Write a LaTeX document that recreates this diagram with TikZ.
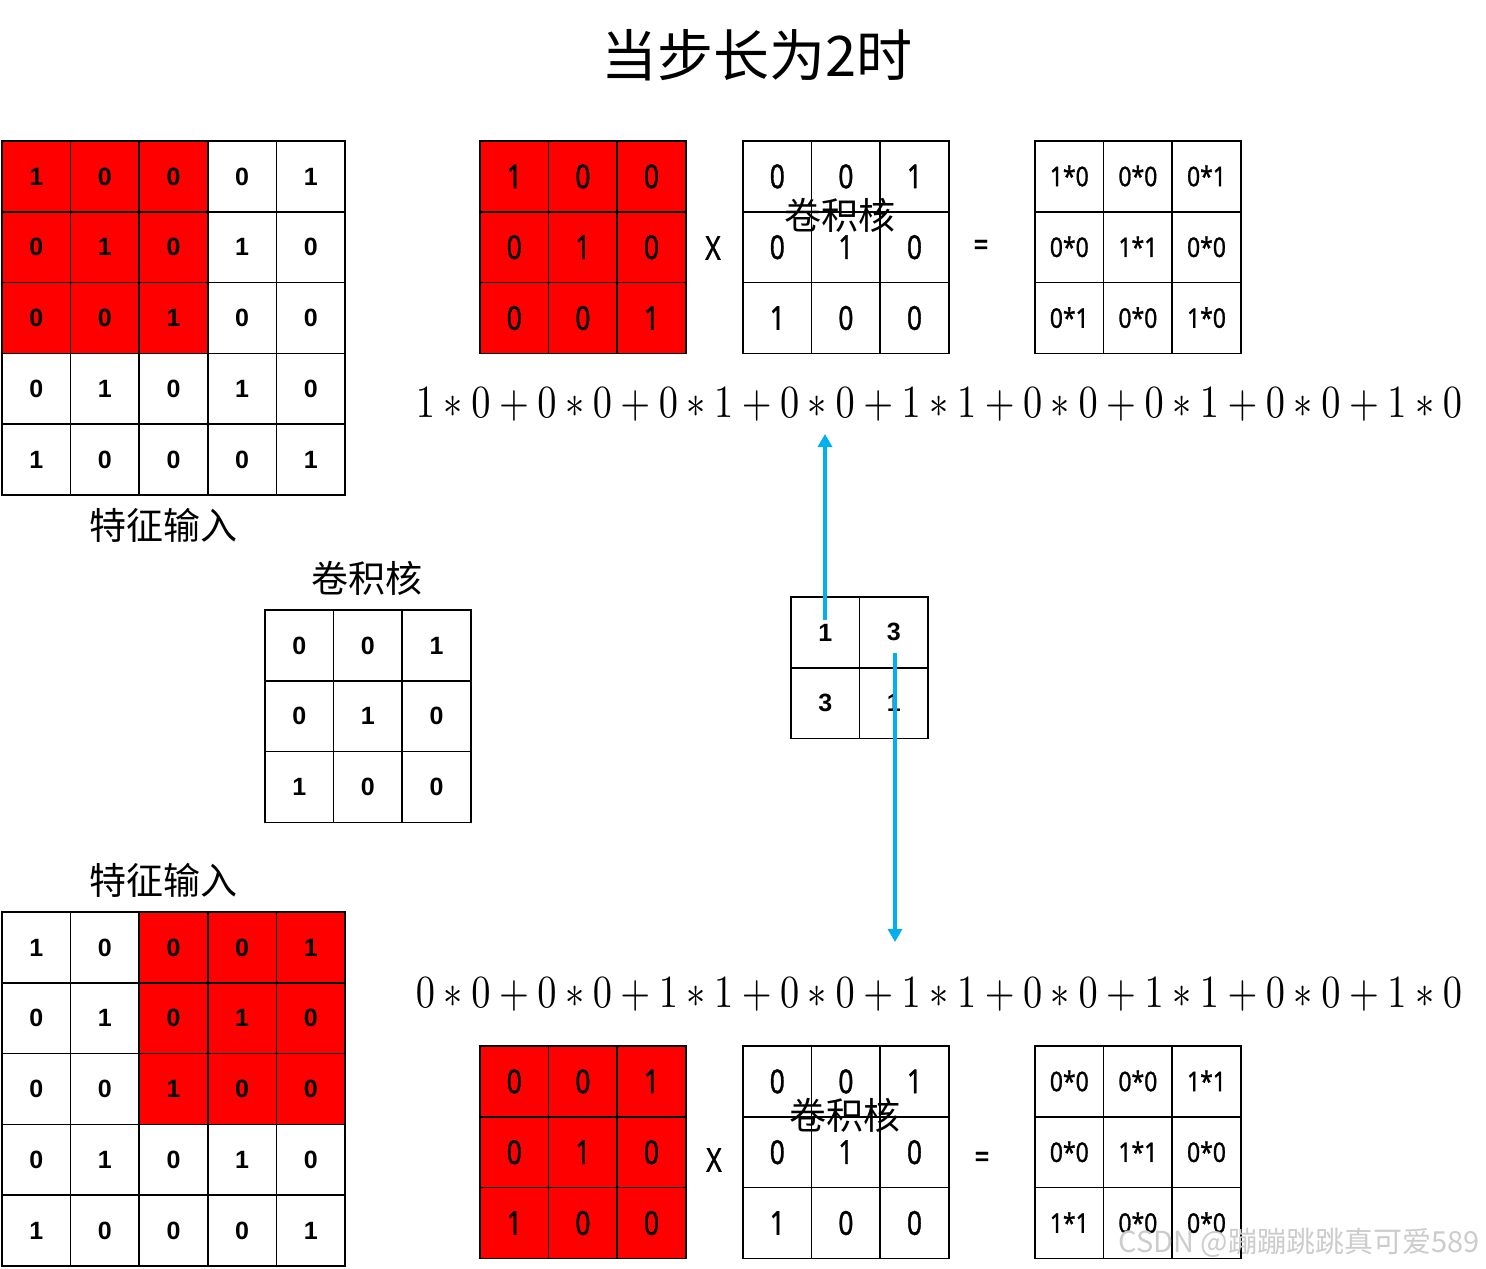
\documentclass[tikz,border=0pt]{standalone}
\usepackage{fontspec}
\usepackage{graphicx}
\usetikzlibrary{arrows.meta}
\newfontfamily\cjk{Noto Sans CJK SC}
\newfontfamily\nsans{Noto Sans}[FakeBold=1.2]
\newfontfamily\bsans{Liberation Sans}
\definecolor{cellred}{RGB}{255,0,0}
\definecolor{arrowblue}{RGB}{0,176,240}
\newcommand\cnd[1]{\raisebox{-2pt}{\scalebox{0.8}[1]{#1}}}
\newcommand\cndp[1]{\raisebox{1pt}{\scalebox{0.85}[1]{#1}}}
\newcommand\keep[1]{\raisebox{-2pt}{#1}}
\tikzset{
  cell/.style={draw=black, line width=1.6pt, minimum width=68.6pt, minimum height=70.8pt, inner sep=0pt},
  bnum/.style={font=\bsans\bfseries\fontsize{25}{27}\selectfont},
  cnum/.style={font=\nsans\bfseries\fontsize{33}{35}\selectfont},
  pnum/.style={font=\nsans\bfseries\fontsize{27}{29}\selectfont},
  cjklabel/.style={font=\cjk\fontsize{37}{39}\selectfont},
  arr/.style={draw=arrowblue, line width=4.8pt, -{Triangle[width=14pt,length=13pt]}},
}
% #1 name, #2 x0, #3 y0, #4 style, #5 wrapper, #6 rows
\newcommand\drawgrid[6]{%
  \foreach \row [count=\i] in {#6} {
    \foreach \v/\f [count=\j] in \row {
      \node[cell, fill=\f, #4] (#1-\i-\j) at ({#2+(\j-0.5)*68.6},{#3+(\i-0.5)*70.8}) {#5{\v}};
    }
  }%
}
\newcommand\formulabox[1]{\scalebox{1}[1.2]{\resizebox{1046pt}{!}{$#1$}}}
\begin{document}
\begin{tikzpicture}[x=1pt,y=-1pt]
\fill[white] (0,0) rectangle (1486,1269);
\useasboundingbox (0,0) rectangle (1486,1269);

% title
\node[font=\cjk\fontsize{56}{58}\selectfont] (title) at (757,55) {当步长为2时};

% top 5x5 feature input
\drawgrid{G}{2}{141}{bnum}{\keep}{
  {1/cellred,0/cellred,0/cellred,0/white,1/white},
  {0/cellred,1/cellred,0/cellred,1/white,0/white},
  {0/cellred,0/cellred,1/cellred,0/white,0/white},
  {0/white,1/white,0/white,1/white,0/white},
  {1/white,0/white,0/white,0/white,1/white}}
\node[cjklabel] (lg1) at (163,525) {特征输入};

% kernel alone
\node[cjklabel] (lk) at (367,578) {卷积核};
\drawgrid{K}{265}{610}{bnum}{\keep}{
  {0/white,0/white,1/white},
  {0/white,1/white,0/white},
  {1/white,0/white,0/white}}

% bottom 5x5 feature input
\node[cjklabel] (lg2) at (163,880) {特征输入};
\drawgrid{H}{2}{912}{bnum}{\keep}{
  {1/white,0/white,0/cellred,0/cellred,1/cellred},
  {0/white,1/white,0/cellred,1/cellred,0/cellred},
  {0/white,0/white,1/cellred,0/cellred,0/cellred},
  {0/white,1/white,0/white,1/white,0/white},
  {1/white,0/white,0/white,0/white,1/white}}

% top row computation
\drawgrid{A}{480}{141}{cnum}{\cnd}{
  {1/cellred,0/cellred,0/cellred},
  {0/cellred,1/cellred,0/cellred},
  {0/cellred,0/cellred,1/cellred}}
\node[cnum] (x1) at (713,248) {\cnd{X}};
\drawgrid{B}{743}{141}{cnum}{\cnd}{
  {0/white,0/white,1/white},
  {0/white,1/white,0/white},
  {1/white,0/white,0/white}}
\node[cjklabel] (kb) at (840,215) {卷积核};
\node[cnum] (eq1) at (981,248) {\cnd{=}};
\drawgrid{C}{1035}{141}{pnum}{\cndp}{
  {1*0/white,0*0/white,0*1/white},
  {0*0/white,1*1/white,0*0/white},
  {0*1/white,0*0/white,1*0/white}}

\node (f1) at (939,405) {\formulabox{1*0+0*0+0*1+0*0+1*1+0*0+0*1+0*0+1*0}};

% result 2x2
\drawgrid{R}{791}{597}{bnum}{\keep}{
  {1/white,3/white},
  {3/white,1/white}}

\coordinate (a1s) at (825,620);
\coordinate (a1e) at (825,434);
\draw[arr] (a1s) -- (a1e);
\coordinate (a2s) at (895,653);
\coordinate (a2e) at (895,942);
\draw[arr] (a2s) -- (a2e);

\node (f2) at (939,995) {\formulabox{0*0+0*0+1*1+0*0+1*1+0*0+1*1+0*0+1*0}};

% bottom row computation
\drawgrid{D}{480}{1046}{cnum}{\cnd}{
  {0/cellred,0/cellred,1/cellred},
  {0/cellred,1/cellred,0/cellred},
  {1/cellred,0/cellred,0/cellred}}
\node[cnum] (x2) at (714,1160) {\cnd{X}};
\drawgrid{E}{743}{1046}{cnum}{\cnd}{
  {0/white,0/white,1/white},
  {0/white,1/white,0/white},
  {1/white,0/white,0/white}}
\node[cjklabel] (kb2) at (845,1115) {卷积核};
\node[cnum] (eq2) at (982,1160) {\cnd{=}};
\drawgrid{F}{1035}{1046}{pnum}{\cndp}{
  {0*0/white,0*0/white,1*1/white},
  {0*0/white,1*1/white,0*0/white},
  {1*1/white,0*0/white,0*0/white}}

% watermark
\node[font=\cjk\fontsize{29}{30}\selectfont, text=gray!40, anchor=east] (wm) at (1483,1243) {CSDN @蹦蹦跳跳真可爱589};
\end{tikzpicture}
\end{document}
